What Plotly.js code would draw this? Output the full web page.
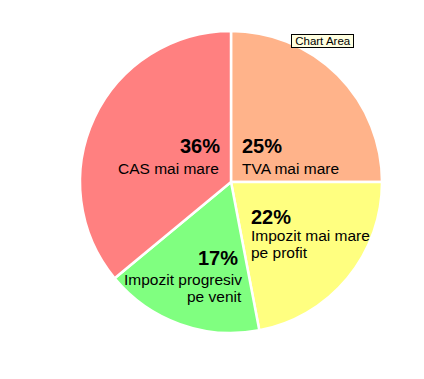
<!DOCTYPE html>
<html>
<head>
<meta charset="utf-8">
<script src="https://cdn.plot.ly/plotly-3.0.1.min.js"></script>
<style>html,body{margin:0;padding:0;background:#fff;}#chart{width:424px;height:379px;}</style>
</head>
<body>
<div id="chart"></div>
<script>
// Data
var categories = ["TVA mai mare", "Impozit mai mare<br>pe profit", "Impozit progresiv<br>pe venit", "CAS mai mare"];
var values = [25, 22, 17, 36];
var colors = ["#FFB38A", "#FFFF80", "#80FF80", "#FF8080"];

// Label placement (pixels in 424x379 page)
// merged: percent and label in one block with uniform 17px line step
var W = 424, H = 379;
var labelPos = [
  {px: 240, lx: 240, pTop: 133, lTop: 158, anchor: "left", merged: false},
  {px: 249, lx: 249, pTop: 204, lTop: 223, anchor: "left", merged: true},
  {px: 240, lx: 244, pTop: 245, lTop: 269, anchor: "right", merged: false},
  {px: 222, lx: 221, pTop: 133, lTop: 158, anchor: "right", merged: false}
];
var lineStep = 17;
var FONT = "Liberation Sans, Arial, sans-serif";

var total = values.reduce(function(a, b){ return a + b; }, 0);
var annotations = [];
for (var i = 0; i < values.length; i++) {
  var p = labelPos[i];
  var pct = Math.round(values[i] / total * 100) + "%";
  var lines = categories[i].split("<br>");
  if (p.merged) {
    var txt = "<span style='font-size:20px'><b>" + pct + "</b></span>";
    for (var k = 0; k < lines.length; k++) {
      txt += "<br><span style='font-size:15.5px'>" + lines[k] + "</span>";
    }
    annotations.push({
      xref: "paper", yref: "paper",
      x: p.px / W, y: 1 - p.pTop / H,
      xanchor: p.anchor, yanchor: "top", align: p.anchor,
      showarrow: false, text: txt,
      font: {family: FONT, size: lineStep / 1.3, color: "#000"}
    });
    continue;
  }
  annotations.push({
    xref: "paper", yref: "paper",
    x: p.px / W, y: 1 - p.pTop / H,
    xanchor: p.anchor, yanchor: "top", align: p.anchor,
    showarrow: false,
    text: "<b>" + pct + "</b>",
    font: {family: FONT, size: 20, color: "#000"}
  });
  for (var j = 0; j < lines.length; j++) {
    annotations.push({
      xref: "paper", yref: "paper",
      x: p.lx / W, y: 1 - (p.lTop + j * lineStep) / H,
      xanchor: p.anchor, yanchor: "top", align: p.anchor,
      showarrow: false,
      text: lines[j],
      font: {family: FONT, size: 15.5, color: "#000"}
    });
  }
}
annotations.push({
  xref: "paper", yref: "paper",
  x: 291 / W, y: 1 - 34 / H,
  xanchor: "left", yanchor: "top",
  showarrow: false,
  text: "&nbsp;Chart Area&nbsp;",
  font: {family: FONT, size: 11.5, color: "#000"},
  bgcolor: "#FFFFE1", bordercolor: "#000", borderwidth: 1, borderpad: 0
});

var trace = {
  type: "pie",
  labels: categories,
  values: values,
  sort: false,
  direction: "clockwise",
  rotation: 0,
  textinfo: "none",
  hoverinfo: "none",
  marker: {colors: colors, line: {color: "#FFFFFF", width: 2.5}},
  domain: {x: [80 / W, 382 / W], y: [1 - 333 / H, 1 - 31 / H]}
};

var layout = {
  width: W, height: H,
  margin: {l: 0, r: 0, t: 0, b: 0},
  showlegend: false,
  paper_bgcolor: "#FFFFFF",
  annotations: annotations
};

Plotly.newPlot("chart", [trace], layout, {displayModeBar: false, staticPlot: true});
</script>
</body>
</html>
